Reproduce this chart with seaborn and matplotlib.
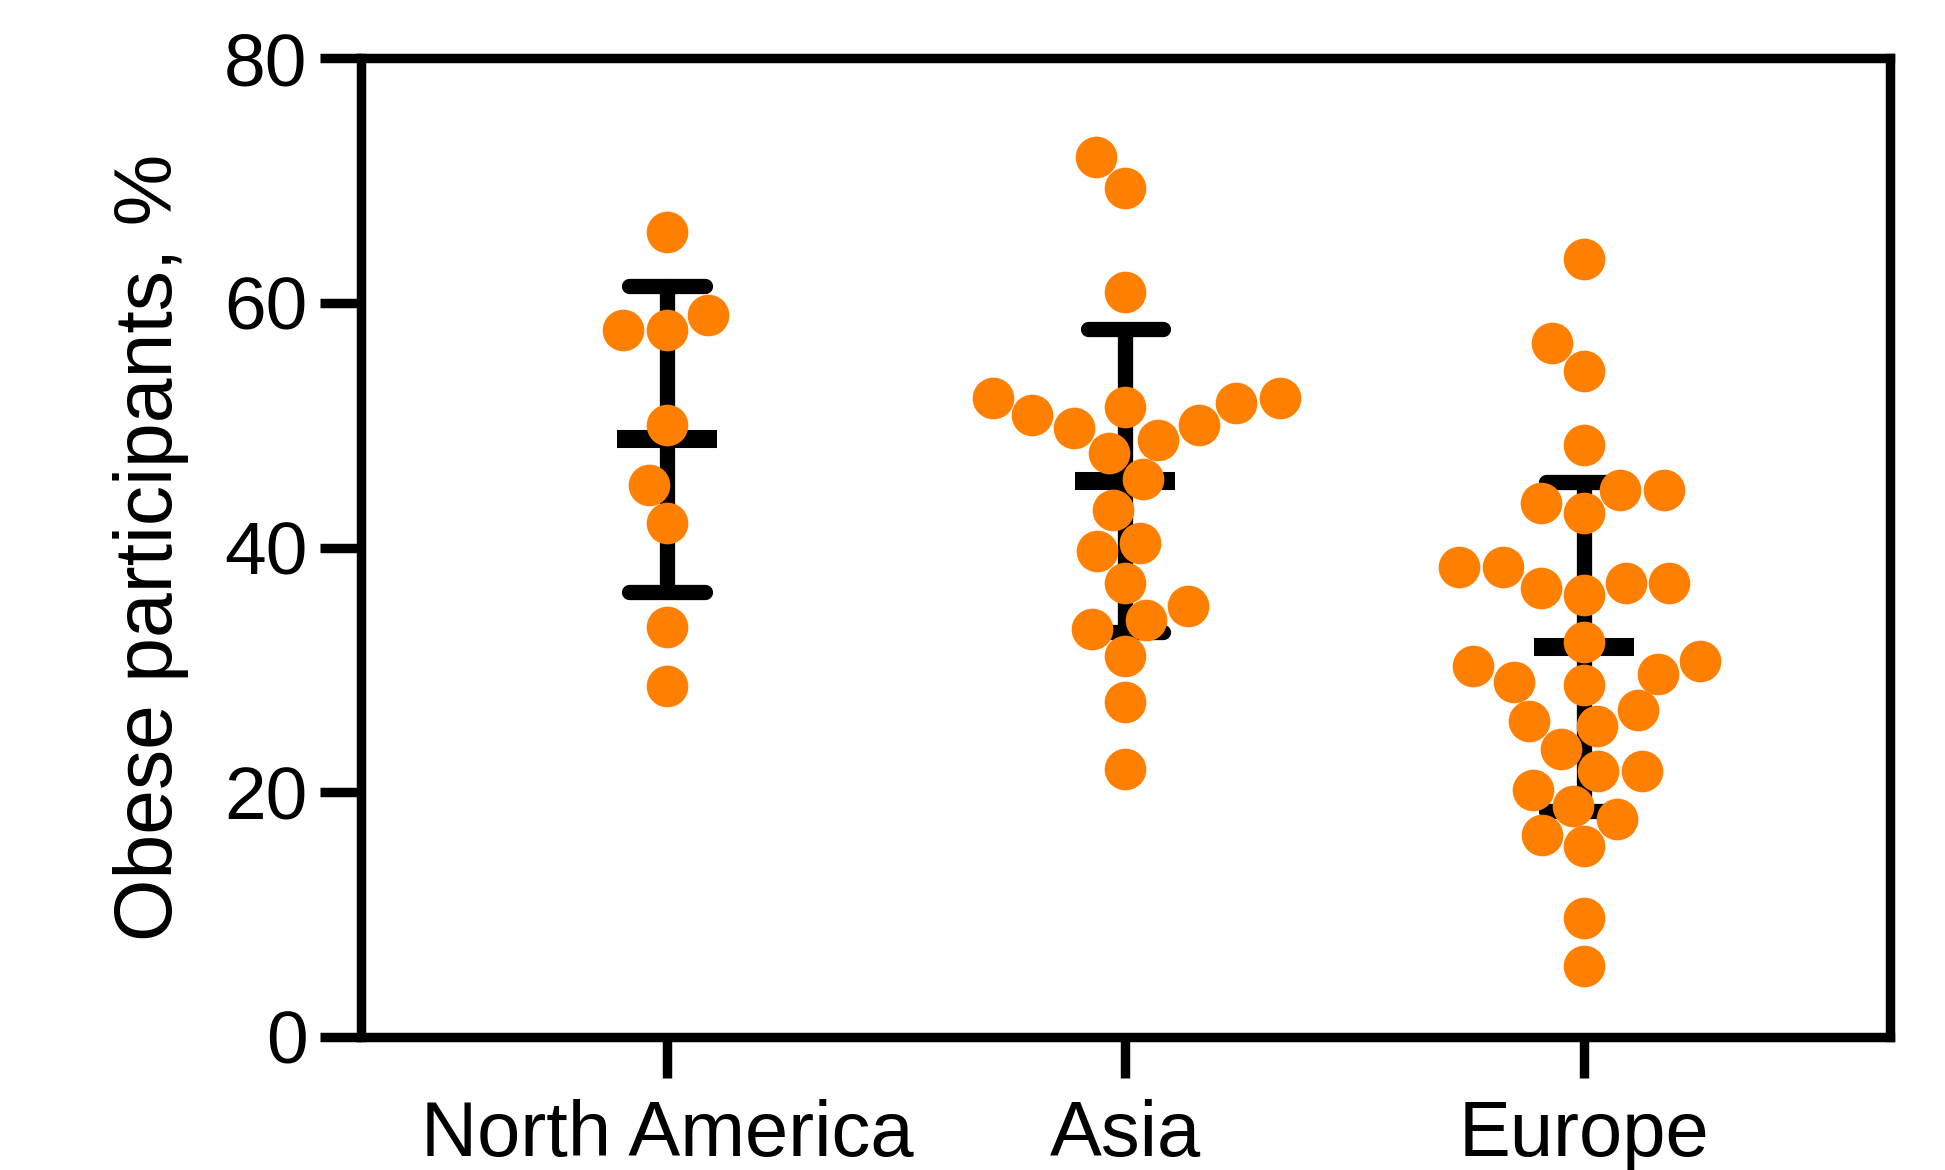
import pandas as pd
import matplotlib.pyplot as plt
import seaborn as sns

# valori (% partecipanti obesi per studio)
regions = ["North America", "Asia", "Europe"]
north_america = [65.8, 59.0, 57.8, 57.8, 50.0, 45.1, 42.0, 33.5, 28.7]
asia = [71.9, 69.4, 60.9, 52.2, 52.2, 51.8, 51.5, 50.8, 50.0, 49.8, 48.8, 47.7,
        45.6, 43.1, 40.4, 39.7, 37.1, 35.2, 34.1, 33.3, 31.1, 27.4, 21.9]
europe = [63.6, 56.7, 54.4, 48.4, 44.7, 44.7, 43.6, 42.8, 38.4, 38.4, 37.1, 37.1,
          36.7, 36.1, 32.3, 30.7, 30.3, 29.7, 29.0, 28.8, 26.7, 25.8, 25.4, 23.5,
          21.7, 21.7, 20.2, 18.9, 17.8, 16.5, 15.6, 9.7, 5.8]
yticks = [0, 20, 40, 60, 80]

df = pd.DataFrame({
    "region": ["North America"] * len(north_america) + ["Asia"] * len(asia) + ["Europe"] * len(europe),
    "obese": north_america + asia + europe,
})

sns.set_style("ticks")
plt.rcParams["font.family"] = ["Liberation Sans", "DejaVu Sans"]
plt.rcParams["text.color"] = "black"
plt.rcParams["axes.labelcolor"] = "black"
plt.rcParams["xtick.color"] = "black"
plt.rcParams["ytick.color"] = "black"

fig = plt.figure(figsize=(19.45, 11.7), dpi=100)
ax = fig.add_axes([0.1856, 0.1137, 0.7861, 0.8367])

# media +/- SD
sns.pointplot(data=df, x="region", y="obese", order=regions, errorbar="sd",
              capsize=0.165, color="black", markers="_", markersize=72,
              markeredgewidth=13, linestyle="none", err_kws={"linewidth": 11}, ax=ax)
# punti singoli
sns.swarmplot(data=df, x="region", y="obese", order=regions, color="#FF8000",
              size=30, zorder=3, ax=ax)

ax.set_xlim(-0.668, 2.668)
ax.set_ylim(0, 80)
ax.set_yticks(yticks)
ax.set_xlabel("")
ax.set_ylabel("Obese participants, %", fontsize=58, labelpad=25)
for s in ax.spines.values():
    s.set_visible(True)
    s.set_linewidth(6.8)
    s.set_color("black")
ax.tick_params(length=29.5, width=6.8, pad=9, color="black", labelcolor="black")
ax.tick_params(axis="y", labelsize=54)
ax.tick_params(axis="x", labelsize=56, pad=15)

fig.savefig("out.png", dpi=100)
